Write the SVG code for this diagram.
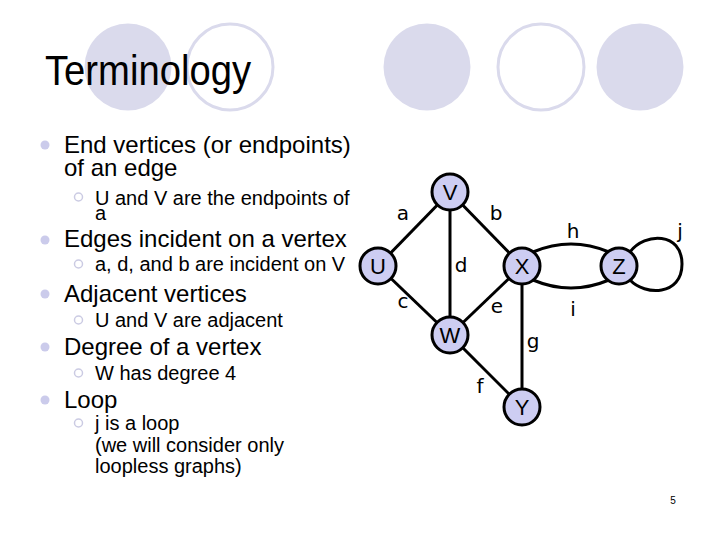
<svg xmlns="http://www.w3.org/2000/svg" width="720" height="540" viewBox="0 0 720 540">
<style>
.deco{fill:#DADAEC}
.decor{fill:#FFFFFF;stroke:#DADAEC;stroke-width:3}
.title{font-family:"Liberation Sans",Arial,sans-serif;font-size:43px;fill:#000}
.b1{font-family:"Liberation Sans",Arial,sans-serif;font-size:24px;fill:#000}
.b2{font-family:"Liberation Sans",Arial,sans-serif;font-size:20px;fill:#000}
.dot{fill:#CBCBEB}
.ring{fill:#FFFFFF;stroke:#CBCBE3;stroke-width:1.5}
.edge{stroke:#000;stroke-width:3;fill:none}
.node circle{fill:#CDCDF2;stroke:#000;stroke-width:3}
.node text{font-family:"Liberation Sans",Arial,sans-serif;font-size:22px;text-anchor:middle;fill:#000}
.lbl{font-family:"DejaVu Sans",Verdana,sans-serif;font-size:20px;text-anchor:middle;fill:#000}
.pg{font-family:"Liberation Sans",Arial,sans-serif;font-size:10px;fill:#000;text-anchor:middle}
</style>
<rect width="720" height="540" fill="#FFFFFF"/>
<g id="decoration">
<circle class="deco" cx="128" cy="67" r="43.5"/>
<circle class="decor" cx="230" cy="67" r="43"/>
<circle class="deco" cx="427" cy="67" r="43.5"/>
<circle class="decor" cx="541" cy="67" r="43"/>
<circle class="deco" cx="640" cy="67" r="43.5"/>
</g>
<text class="title" x="45" y="85" textLength="206" lengthAdjust="spacingAndGlyphs">Terminology</text>
<g id="bullets">
<circle class="dot" cx="45" cy="145" r="4.5"/>
<text class="b1" x="64" y="153">End vertices (or endpoints)</text>
<text class="b1" x="64" y="176">of an edge</text>
<circle class="ring" cx="78.5" cy="197" r="4"/>
<text class="b2" x="95" y="205">U and V are the endpoints of</text>
<text class="b2" x="95" y="220">a</text>
<circle class="dot" cx="45" cy="240" r="4.5"/>
<text class="b1" x="64" y="247">Edges incident on a vertex</text>
<circle class="ring" cx="78.5" cy="264" r="4"/>
<text class="b2" x="95" y="271">a, d, and b are incident on V</text>
<circle class="dot" cx="45" cy="294" r="4.5"/>
<text class="b1" x="64" y="302">Adjacent vertices</text>
<circle class="ring" cx="78.5" cy="320" r="4"/>
<text class="b2" x="95" y="327">U and V are adjacent</text>
<circle class="dot" cx="45" cy="347" r="4.5"/>
<text class="b1" x="64" y="355">Degree of a vertex</text>
<circle class="ring" cx="78.5" cy="373" r="4"/>
<text class="b2" x="95" y="380">W has degree 4</text>
<circle class="dot" cx="45" cy="400" r="4.5"/>
<text class="b1" x="64" y="408">Loop</text>
<circle class="ring" cx="78.5" cy="423" r="4"/>
<text class="b2" x="95" y="430">j is a loop</text>
<text class="b2" x="95" y="452">(we will consider only</text>
<text class="b2" x="95" y="473">loopless graphs)</text>
</g>
<g id="connectors">
<line class="edge" x1="378" y1="266" x2="450" y2="192"/>
<line class="edge" x1="450" y1="192" x2="450" y2="335"/>
<line class="edge" x1="450" y1="192" x2="522" y2="266"/>
<line class="edge" x1="378" y1="266" x2="450" y2="335"/>
<line class="edge" x1="450" y1="335" x2="522" y2="266"/>
<line class="edge" x1="450" y1="335" x2="522" y2="407"/>
<line class="edge" x1="522" y1="266" x2="522" y2="407"/>
<path class="edge" d="M 533 252 Q 571 236 609 252"/>
<path class="edge" d="M 533 280 Q 571 296 609 280"/>
<path class="edge" d="M 630 252 C 645 232 682 232 682 264 C 682 296 645 296 630 280"/>
<text class="lbl" x="403" y="220">a</text>
<text class="lbl" x="496" y="220">b</text>
<text class="lbl" x="403" y="308">c</text>
<text class="lbl" x="461" y="272">d</text>
<text class="lbl" x="497" y="313">e</text>
<text class="lbl" x="480" y="393">f</text>
<text class="lbl" x="533" y="348">g</text>
<text class="lbl" x="573" y="238">h</text>
<text class="lbl" x="573" y="316">i</text>
<text class="lbl" x="680" y="238">j</text>
</g>
<g id="node-V" class="node"><circle cx="450" cy="192" r="18"/><text x="450" y="200">V</text></g>
<g id="node-U" class="node"><circle cx="378" cy="266" r="18"/><text x="378" y="274">U</text></g>
<g id="node-X" class="node"><circle cx="522" cy="266" r="18"/><text x="522" y="274">X</text></g>
<g id="node-Z" class="node"><circle cx="619" cy="266" r="18"/><text x="619" y="274">Z</text></g>
<g id="node-W" class="node"><circle cx="450" cy="335" r="18"/><text x="450" y="343">W</text></g>
<g id="node-Y" class="node"><circle cx="522" cy="407" r="18"/><text x="522" y="415">Y</text></g>
<text class="pg" x="673" y="504">5</text>
</svg>
